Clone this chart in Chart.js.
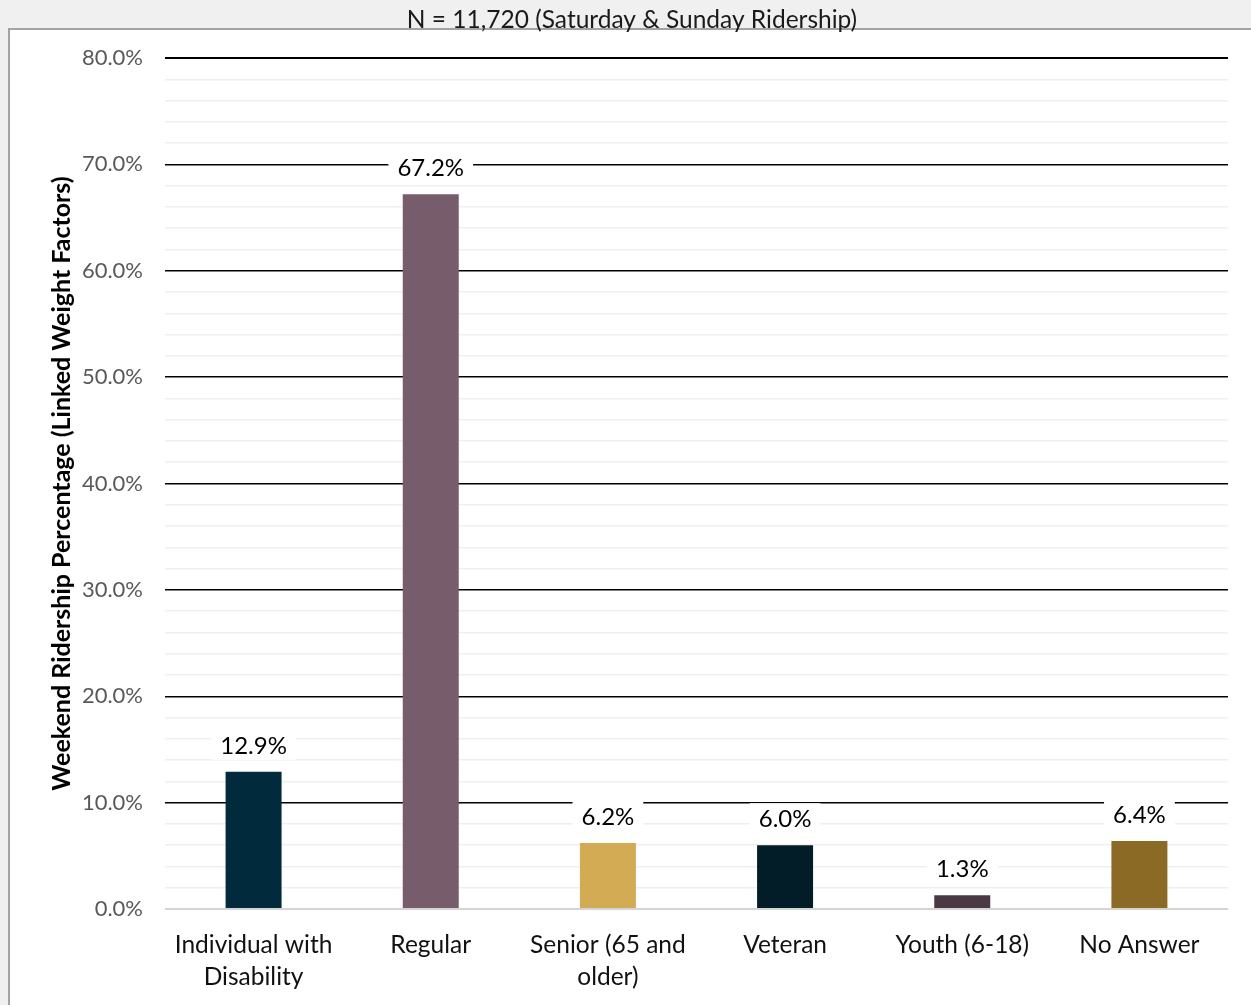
<!DOCTYPE html>
<html>
<head>
<meta charset="utf-8">
<script src="https://cdn.jsdelivr.net/npm/chart.js@4/dist/chart.umd.min.js"></script>
<style>
  html, body { margin: 0; padding: 0; background: #f0f0f0; }
  #wrap { position: relative; width: 1251px; height: 1005px; }
</style>
</head>
<body>
<div id="wrap"><canvas id="c" width="1251" height="1005"></canvas></div>
<script>
// Weekend ridership by fare category
const categories = [["Individual with", "Disability"], "Regular", ["Senior (65 and", "older)"], "Veteran", "Youth (6-18)", "No Answer"];
const shares = [12.9, 67.2, 6.2, 6.0, 1.3, 6.4];
const barColors = ["#022a3d", "#775c6b", "#d3ab54", "#021c28", "#4a3944", "#8b6a26"];
const yTickValues = [0, 10, 20, 30, 40, 50, 60, 70, 80];
const chartTitle = "N = 11,720 (Saturday & Sunday Ridership)";
const yAxisTitle = "Weekend Ridership Percentage (Linked Weight Factors)";

const FONT = "Lato";

// light grey page with a white framed panel; the heading sits on the frame's top edge
const framePlugin = {
  id: "frame",
  beforeDraw(chart) {
    const ctx = chart.ctx;
    ctx.save();
    ctx.fillStyle = "#f0f0f0";
    ctx.fillRect(0, 0, chart.width, chart.height);
    ctx.fillStyle = "#ffffff";
    ctx.fillRect(9, 29, chart.width - 9, chart.height - 29);
    ctx.strokeStyle = "#a3a3a3";
    ctx.lineWidth = 2;
    ctx.beginPath();
    ctx.moveTo(9, chart.height);
    ctx.lineTo(9, 29);
    ctx.lineTo(chart.width, 29);
    ctx.stroke();
    ctx.fillStyle = "#1a1a1a";
    ctx.font = "24.5px " + FONT;
    ctx.textAlign = "center";
    ctx.textBaseline = "middle";
    ctx.fillText(chartTitle, 632, 20);
    ctx.restore();
  }
};

// value labels above each bar, on a white box
const valueLabels = {
  id: "valueLabels",
  afterDatasetsDraw(chart) {
    const ctx = chart.ctx;
    const meta = chart.getDatasetMeta(0);
    ctx.save();
    ctx.font = "24px " + FONT;
    ctx.textAlign = "center";
    ctx.textBaseline = "middle";
    meta.data.forEach((bar, i) => {
      const text = shares[i].toFixed(1) + "%";
      const cy = bar.y - 27;
      const w = ctx.measureText(text).width + 18;
      ctx.fillStyle = "#ffffff";
      ctx.fillRect(bar.x - w / 2, cy - 15, w, 30);
      ctx.fillStyle = "#000000";
      ctx.fillText(text, bar.x, cy + 1);
    });
    ctx.restore();
  }
};

new Chart(document.getElementById("c"), {
  type: "bar",
  data: {
    labels: categories,
    datasets: [{
      data: shares,
      backgroundColor: barColors,
      borderWidth: 0,
      categoryPercentage: 1,
      barPercentage: 0.316
    }]
  },
  options: {
    responsive: false,
    maintainAspectRatio: false,
    animation: false,
    devicePixelRatio: 1,
    layout: { padding: { left: 0, right: 23, top: 58, bottom: 0 } },
    plugins: {
      legend: { display: false },
      tooltip: { enabled: false },
      title: { display: false }
    },
    scales: {
      x: {
        grid: { display: false },
        border: { display: false },
        ticks: {
          color: "#111111",
          font: { family: FONT, size: 24.5, lineHeight: "32px" },
          padding: 12,
          maxRotation: 0
        },
        afterFit(scale) { scale.height = 96; }
      },
      y: {
        min: 0,
        max: 80,
        border: { display: false },
        grid: {
          drawTicks: false,
          color(c) {
            const v = c.tick.value;
            if (v === 0) return "#d4d4d4";
            return yTickValues.includes(v) ? "#000000" : "#efefef";
          },
          lineWidth(c) {
            const v = c.tick.value;
            if (v === 0 || v === 80) return 2;
            return 1.5;
          }
        },
        ticks: {
          stepSize: 2,
          autoSkip: false,
          padding: 22,
          color: "#595959",
          font: { family: FONT, size: 22 },
          callback(v) { return yTickValues.includes(v) ? v.toFixed(1) + "%" : ""; }
        },
        title: {
          display: true,
          text: yAxisTitle,
          color: "#000000",
          font: { family: FONT, size: 25, weight: "bold", lineHeight: 1.2 },
          padding: { top: 47, bottom: 0 }
        },
        afterFit(scale) { scale.width = 165; }
      }
    }
  },
  plugins: [framePlugin, valueLabels]
});
</script>
</body>
</html>
